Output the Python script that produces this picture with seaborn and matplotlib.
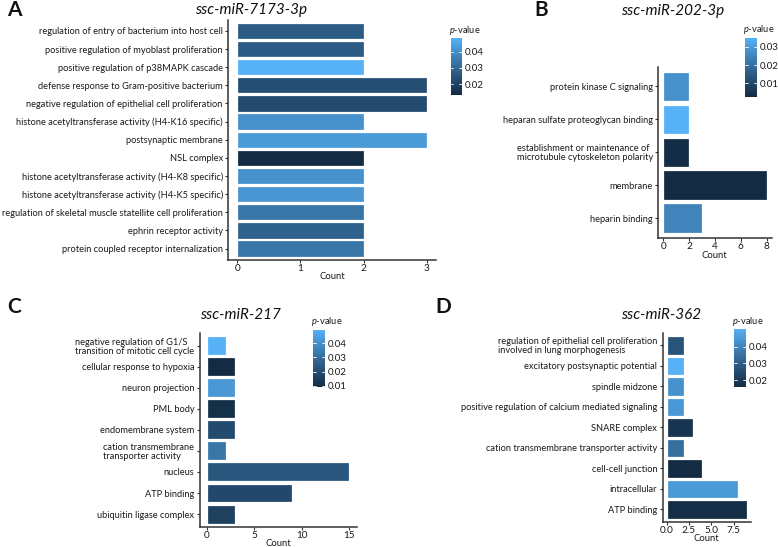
import numpy as np
import pandas as pd
import matplotlib
matplotlib.use("Agg")
import matplotlib.pyplot as plt
import seaborn as sns
from matplotlib.colors import LinearSegmentedColormap, Normalize
from matplotlib.cm import ScalarMappable

sns.set_style("white")
FONT = "Lato"
plt.rcParams["font.family"] = [FONT, "DejaVu Sans"]
plt.rcParams["mathtext.fontset"] = "custom"
plt.rcParams["mathtext.it"] = FONT + ":italic"
plt.rcParams["mathtext.rm"] = FONT

# ---------------- data ----------------
title_a = "ssc-miR-7173-3p"
terms_a = ["regulation of entry of bacterium into host cell",
           "positive regulation of myoblast proliferation",
           "positive regulation of p38MAPK cascade",
           "defense response to Gram-positive bacterium",
           "negative regulation of epithelial cell proliferation",
           "histone acetyltransferase activity (H4-K16 specific)",
           "postsynaptic membrane",
           "NSL complex",
           "histone acetyltransferase activity (H4-K8 specific)",
           "histone acetyltransferase activity (H4-K5 specific)",
           "regulation of skeletal muscle statellite cell proliferation",
           "ephrin receptor activity",
           "protein coupled receptor internalization"]
counts_a = [2, 2, 2, 3, 3, 2, 3, 2, 2, 2, 2, 2, 2]
pvals_a = [0.027, 0.027, 0.0483, 0.0233, 0.0225, 0.0406, 0.0429, 0.0132,
           0.0406, 0.0418, 0.0339, 0.0283, 0.0339]
xticks_a = [0, 1, 2, 3]
cticks_a = [0.02, 0.03, 0.04]

title_b = "ssc-miR-202-3p"
terms_b = ["protein kinase C signaling",
           "heparan sulfate proteoglycan binding",
           "establishment or maintenance of\nmicrotubule cytoskeleton polarity",
           "membrane",
           "heparin binding"]
counts_b = [2, 2, 2, 8, 3]
pvals_b = [0.0277, 0.0348, 0.0032, 0.0025, 0.0248]
xticks_b = [0, 2, 4, 6, 8]
cticks_b = [0.01, 0.02, 0.03]

title_c = "ssc-miR-217"
terms_c = ["negative regulation of G1/S\ntransition of mitotic cell cycle",
           "cellular response to hypoxia",
           "neuron projection",
           "PML body",
           "endomembrane system",
           "cation transmembrane\ntransporter activity",
           "nucleus",
           "ATP binding",
           "ubiquitin ligase complex"]
counts_c = [2, 3, 3, 3, 3, 2, 15, 9, 3]
pvals_c = [0.0494, 0.0089, 0.042, 0.0105, 0.0194, 0.0328, 0.0231, 0.019, 0.0162]
xticks_c = [0, 5, 10, 15]
cticks_c = [0.01, 0.02, 0.03, 0.04]

title_d = "ssc-miR-362"
terms_d = ["regulation of epithelial cell proliferation\ninvolved in lung morphogenesis",
           "excitatory postsynaptic potential",
           "spindle midzone",
           "positive regulation of calcium mediated signaling",
           "SNARE complex",
           "cation transmembrane transporter activity",
           "cell-cell junction",
           "intracellular",
           "ATP binding"]
counts_d = [2, 2, 2, 2, 3, 2, 4, 8, 9]
pvals_d = [0.0273, 0.0506, 0.043, 0.0447, 0.0188, 0.0346, 0.0158, 0.045, 0.0168]
xticks_d = [0.0, 2.5, 5.0, 7.5]
cticks_d = [0.02, 0.03, 0.04]

# ---------------- ggplot-like Lab gradient ----------------
def hex2rgb(h):
    return np.array([int(h[i:i + 2], 16) for i in (1, 3, 5)]) / 255.0

WHITE = np.array([0.95047, 1.0, 1.08883])
M = np.array([[0.4124, 0.3576, 0.1805], [0.2126, 0.7152, 0.0722], [0.0193, 0.1192, 0.9505]])

def rgb2lab(c):
    lin = np.where(c <= 0.04045, c / 12.92, ((c + 0.055) / 1.055) ** 2.4)
    xyz = M @ lin / WHITE
    f = np.where(xyz > 0.008856, np.cbrt(xyz), 7.787 * xyz + 16 / 116)
    return np.array([116 * f[1] - 16, 500 * (f[0] - f[1]), 200 * (f[1] - f[2])])

def lab2rgb(lab):
    fy = (lab[0] + 16) / 116
    fx = fy + lab[1] / 500
    fz = fy - lab[2] / 200
    f = np.array([fx, fy, fz])
    xyz = np.where(f > 0.206893, f ** 3, (f - 16 / 116) / 7.787) * WHITE
    lin = np.linalg.solve(M, xyz)
    lin = np.clip(lin, 0, 1)
    c = np.where(lin <= 0.0031308, 12.92 * lin, 1.055 * lin ** (1 / 2.4) - 0.055)
    return np.clip(c, 0, 1)

lo, hi = rgb2lab(hex2rgb("#132B43")), rgb2lab(hex2rgb("#56B1F7"))
cols = [lab2rgb(lo + t * (hi - lo)) for t in np.linspace(0, 1, 64)]
cmap = LinearSegmentedColormap.from_list("gg", cols)

# ---------------- figure ----------------
W, H = 778, 547
fig = plt.figure(figsize=(W / 100, H / 100), dpi=100)

def rect(l, r, t, b):
    return [l / W, 1 - b / H, (r - l) / W, (b - t) / H]

TXT = "#1a1a1a"
LBL = 6.7

def panel(terms, counts, pvals, axr, xticks, xtl, cbr, cticks):
    ax = fig.add_axes(rect(*axr))
    df = pd.DataFrame({"term": terms, "count": counts, "p": pvals})
    norm = (min(pvals), max(pvals))
    sns.barplot(data=df, x="count", y="term", hue="p", palette=cmap, hue_norm=norm,
                order=terms, dodge=False, width=0.9, saturation=1, edgecolor="white",
                linewidth=0.9, legend=False, ax=ax)
    n = len(terms)
    mx = max(counts)
    ax.set_xlim(-0.05 * mx, 1.05 * mx)
    ax.set_ylim(n - 1 + 0.6, -0.6)
    ax.set_xticks(xticks)
    ax.set_xticklabels(xtl, fontsize=LBL + 0.5, color=TXT)
    ax.set_yticks(range(n))
    ax.set_yticklabels(terms, fontsize=LBL, color=TXT, multialignment="left",
                       linespacing=1.0)
    ax.set_ylabel("")
    ax.set_xlabel("Count", fontsize=LBL + 0.1, color=TXT, labelpad=-0.5)
    for s in ["top", "right"]:
        ax.spines[s].set_visible(False)
    for s in ["left", "bottom"]:
        ax.spines[s].set_color("#333333")
        ax.spines[s].set_linewidth(1.1)
    ax.tick_params(axis="y", length=2.5, width=0.8, color="#333333", pad=1.2, left=True)
    ax.tick_params(axis="x", length=2.5, width=0.8, color="#333333", pad=0.6, bottom=True)
    ax.grid(False)
    # colorbar
    cax = fig.add_axes(rect(*cbr))
    sm = ScalarMappable(norm=Normalize(*norm), cmap=cmap)
    cb = fig.colorbar(sm, cax=cax, ticks=cticks)
    cb.outline.set_visible(False)
    cax.tick_params(length=0, pad=2, labelsize=LBL + 0.3, labelcolor=TXT)
    cax.set_yticklabels([f"{t:.2f}" for t in cticks])
    for t in cticks:
        cax.plot([0, 0.22], [t, t], color="white", lw=0.6, transform=cax.get_yaxis_transform())
        cax.plot([0.78, 1], [t, t], color="white", lw=0.6, transform=cax.get_yaxis_transform())
    fig.text((cbr[0] - 2) / W, 1 - (cbr[2] - 8) / H, r"$\it{p}$-value", fontsize=LBL,
             color=TXT, ha="left", va="center")
    return ax

panel(terms_a, counts_a, pvals_a, (228, 436, 20, 259.5), xticks_a,
      [str(v) for v in xticks_a], (450.7, 461.7, 38.3, 95), cticks_a)
panel(terms_b, counts_b, pvals_b, (658, 771.7, 66.7, 238), xticks_b,
      [str(v) for v in xticks_b], (745, 757, 38, 97), cticks_b)
panel(terms_c, counts_c, pvals_c, (199.5, 356.5, 333, 526.7), xticks_c,
      [str(v) for v in xticks_c], (313, 325, 330, 387.3), cticks_c)
panel(terms_d, counts_d, pvals_d, (662.5, 751, 333, 521.7), xticks_d,
      [f"{v:.1f}" for v in xticks_d], (734, 746, 329, 387), cticks_d)

# titles and panel letters
for txt, x, y in [(title_a, 251, 10), (title_b, 673, 11), (title_c, 240, 315), (title_d, 661, 315)]:
    fig.text(x / W, 1 - y / H, txt, fontsize=11, style="italic", color="#111111",
             ha="center", va="center")
for txt, x, y in [("A", 14, 10), ("B", 541, 10), ("C", 14, 307), ("D", 443, 307)]:
    fig.text(x / W, 1 - y / H, txt, fontsize=15, weight="bold", color="#111111",
             ha="center", va="center")

fig.savefig("out.png", dpi=100, facecolor="white")
